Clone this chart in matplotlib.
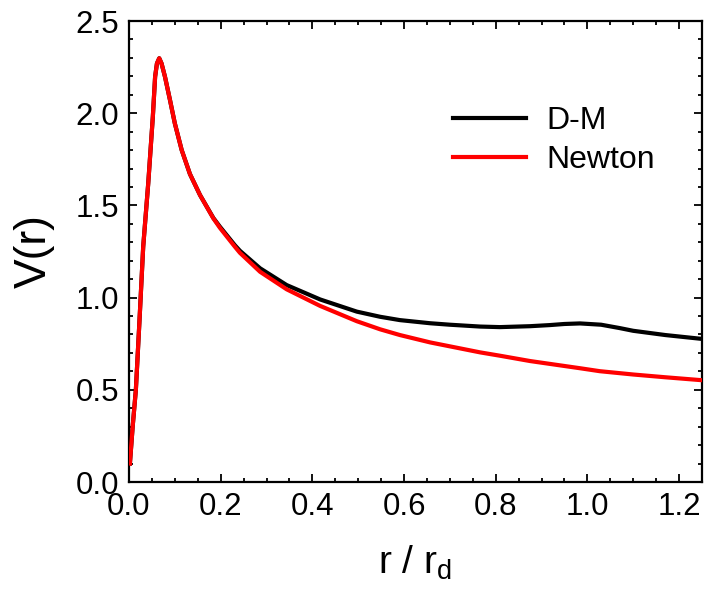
import matplotlib
matplotlib.use('Agg')
import matplotlib.pyplot as plt
from matplotlib.ticker import MultipleLocator

plt.rcParams['font.family'] = ['Liberation Sans', 'DejaVu Sans']
plt.rcParams['mathtext.fontset'] = 'custom'
plt.rcParams['mathtext.rm'] = 'Liberation Sans'
plt.rcParams['mathtext.it'] = 'Liberation Sans:italic'

# values
r_newton = [0.002, 0.008, 0.015, 0.023, 0.031, 0.042, 0.052, 0.057, 0.061, 0.066,
            0.071, 0.0785, 0.0894, 0.100, 0.115, 0.133, 0.155, 0.184, 0.1985, 0.231,
            0.242, 0.286, 0.344, 0.417, 0.497, 0.548, 0.591, 0.657, 0.766, 0.809,
            0.875, 0.984, 1.027, 1.10, 1.17, 1.25]
v_newton = [0.10, 0.30, 0.50, 0.88, 1.276, 1.62, 1.98, 2.198, 2.27, 2.298,
            2.27, 2.198, 2.072, 1.945, 1.800, 1.670, 1.556, 1.430, 1.378, 1.276,
            1.243, 1.140, 1.045, 0.955, 0.872, 0.828, 0.797, 0.757, 0.703, 0.685,
            0.656, 0.617, 0.601, 0.583, 0.568, 0.552]

r_dm = [0.002, 0.008, 0.015, 0.023, 0.031, 0.042, 0.052, 0.057, 0.061, 0.066,
        0.071, 0.0785, 0.0894, 0.100, 0.115, 0.133, 0.155, 0.184, 0.1985, 0.231,
        0.242, 0.286, 0.344, 0.417, 0.497, 0.548, 0.591, 0.657, 0.70, 0.766,
        0.809, 0.875, 0.918, 0.95, 0.984, 1.03, 1.07, 1.10, 1.17, 1.25]
v_dm = [0.10, 0.30, 0.50, 0.88, 1.276, 1.62, 1.98, 2.198, 2.27, 2.298,
        2.27, 2.198, 2.072, 1.945, 1.800, 1.670, 1.556, 1.432, 1.384, 1.284,
        1.254, 1.159, 1.068, 0.990, 0.924, 0.896, 0.878, 0.861, 0.853, 0.843,
        0.840, 0.845, 0.851, 0.857, 0.860, 0.853, 0.835, 0.820, 0.797, 0.776]

fig = plt.figure(figsize=(7.06, 5.92), dpi=100)
ax = fig.add_axes([0.1827, 0.1858, 0.8116, 0.7787])

ax.plot(r_dm, v_dm, color='black', lw=3, label='D-M', zorder=2)
ax.plot(r_newton, v_newton, color='#ff0000', lw=3, label='Newton', zorder=3)

ax.set_xlim(0, 1.25)
ax.set_ylim(0, 2.5)
ax.xaxis.set_major_locator(MultipleLocator(0.2))
ax.xaxis.set_minor_locator(MultipleLocator(0.05))
ax.yaxis.set_major_locator(MultipleLocator(0.5))
ax.yaxis.set_minor_locator(MultipleLocator(0.1))
ax.xaxis.set_major_formatter(plt.FormatStrFormatter('%.1f'))
ax.yaxis.set_major_formatter(plt.FormatStrFormatter('%.1f'))

ax.tick_params(which='both', direction='in', top=True, right=True, width=1.3)
ax.tick_params(which='major', length=6, labelsize=22.5, pad=7)
ax.tick_params(which='minor', length=3)
for s in ax.spines.values():
    s.set_linewidth(1.6)

ax.set_xlabel(r'r / r$_{\rm d}$', fontsize=28, labelpad=16)
ax.set_ylabel('V(r)', fontsize=32, labelpad=15)

ax.legend(loc='upper left', bbox_to_anchor=(0.565, 0.815), frameon=False,
          fontsize=23, handlelength=2.3, handletextpad=0.62, labelspacing=0.28,
          borderpad=0, borderaxespad=0)

fig.savefig('out.png', dpi=100)
plt.close(fig)
